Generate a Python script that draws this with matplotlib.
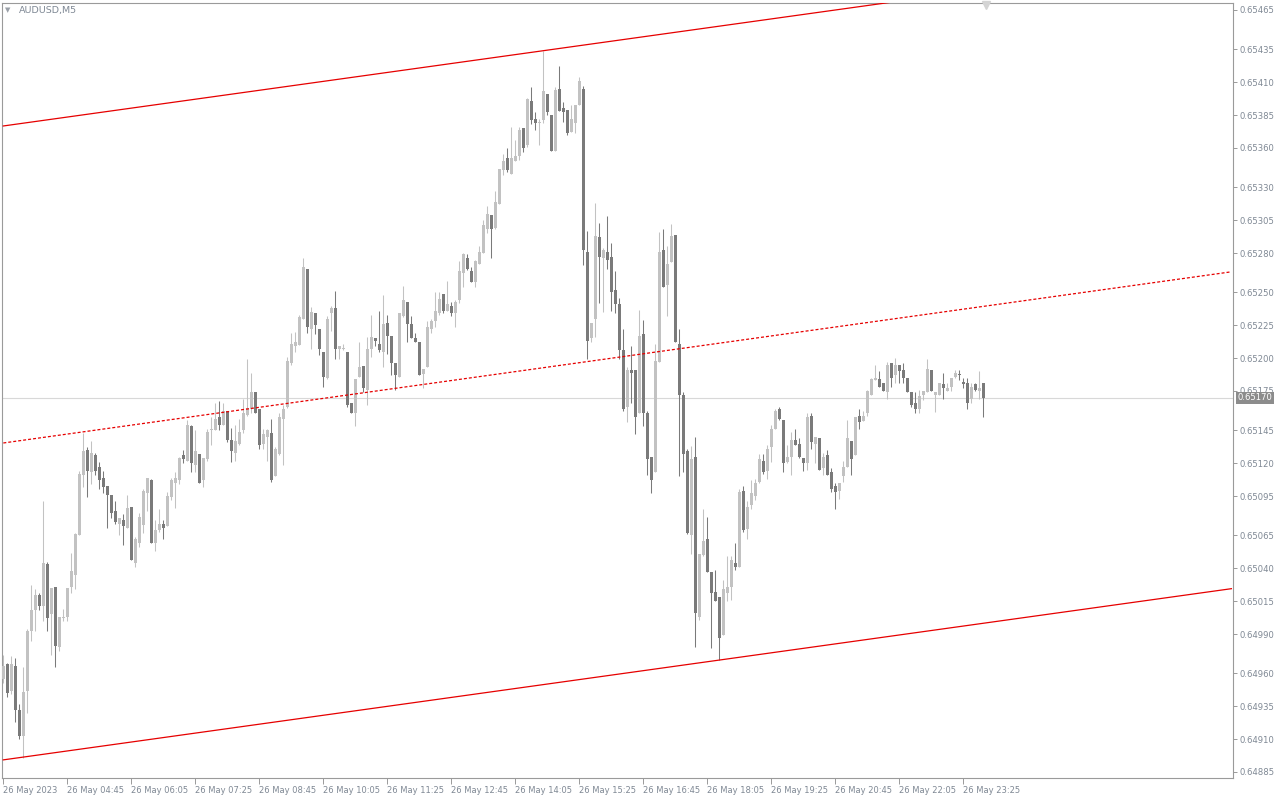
import numpy as np
import matplotlib
matplotlib.use("Agg")
import matplotlib.pyplot as plt
from matplotlib.transforms import blended_transform_factory

# ---------------- data (prices in 1e-5 points) ----------------
opens = [64956,64967,64947,64966,64932,64912,64947,64992,65008,65020,65011,65043,65005,65026,64980,65002,65003,65026,65035,65065,
65111,65130,65113,65126,65117,65109,65103,65096,65084,65074,65077,65071,65087,65044,65059,65073,65097,65107,65059,65069,
65074,65072,65094,65105,65107,65126,65122,65148,65119,65127,65107,65123,65145,65145,65155,65149,65160,65138,65128,65135,
65145,65157,65161,65174,65161,65135,65140,65143,65110,65127,65154,65163,65196,65209,65210,65230,65268,65222,65234,65222,
65205,65185,65234,65238,65207,65207,65205,65166,65158,65186,65194,65176,65207,65215,65211,65205,65227,65217,65196,65186,
65232,65243,65226,65215,65212,65188,65193,65222,65228,65234,65249,65236,65240,65234,65244,65265,65276,65266,65258,65272,
65280,65298,65309,65299,65317,65343,65352,65340,65350,65354,65375,65362,65396,65382,65379,65381,65401,65385,65358,65405,
65390,65389,65372,65379,65393,65405,65281,65215,65230,65292,65276,65281,65277,65252,65241,65206,65163,65191,65191,65158,
65218,65158,65125,65113,65197,65282,65256,65273,65294,65211,65172,65129,65065,65125,65003,65050,65062,65037,65022,65018,
64989,65021,65026,65044,65041,65099,65070,65088,65095,65106,65122,65114,65132,65146,65161,65153,65121,65125,65138,65135,
65124,65120,65156,65135,65139,65116,65126,65113,65103,65099,65110,65117,65137,65126,65156,65152,65158,65172,65183,65184,
65181,65174,65196,65187,65195,65191,65185,65174,65166,65161,65172,65174,65191,65172,65172,65180,65175,65178,65186,65188,
65182,65181,65169,65180,65175,65181]
highs = [64974,64968,64973,64972,64937,64965,64994,65027,65024,65021,65091,65045,65025,65026,65003,65009,65025,65052,65067,65114,
65143,65132,65137,65128,65121,65114,65103,65096,65091,65078,65081,65096,65087,65064,65082,65100,65109,65108,65077,65085,
65077,65098,65109,65113,65125,65130,65153,65149,65145,65127,65124,65146,65155,65166,65167,65166,65160,65147,65149,65154,
65169,65199,65189,65174,65161,65146,65146,65154,65132,65158,65164,65201,65219,65220,65233,65276,65268,65239,65234,65222,
65205,65232,65240,65251,65209,65211,65205,65166,65184,65212,65194,65216,65233,65215,65236,65248,65233,65217,65196,65234,
65255,65243,65232,65219,65212,65192,65228,65230,65250,65250,65249,65259,65243,65244,65274,65280,65279,65269,65275,65285,
65305,65316,65309,65327,65344,65355,65360,65376,65366,65376,65375,65398,65406,65387,65382,65434,65401,65385,65406,65422,
65395,65389,65393,65393,65414,65407,65297,65227,65318,65303,65284,65308,65288,65266,65246,65222,65193,65209,65191,65237,
65229,65160,65125,65211,65296,65298,65285,65302,65294,65222,65174,65131,65133,65140,65051,65085,65079,65037,65039,65018,
65031,65049,65049,65059,65100,65103,65091,65107,65108,65127,65127,65134,65149,65161,65163,65153,65134,65144,65146,65139,
65124,65158,65158,65140,65139,65128,65130,65116,65105,65105,65122,65153,65137,65155,65161,65160,65176,65185,65195,65190,
65181,65197,65196,65200,65195,65196,65185,65174,65174,65176,65175,65199,65191,65174,65181,65189,65181,65185,65191,65191,
65185,65185,65181,65181,65190,65181]
lows = [64953,64942,64944,64923,64910,64896,64930,64985,64992,65008,65000,64992,64974,64965,64977,65000,65000,65021,65024,65065,
65102,65094,65104,65111,65100,65097,65071,65078,65074,65065,65058,65071,65046,65041,65056,65067,65084,65059,65053,65068,
65062,65072,65092,65086,65104,65120,65122,65113,65113,65105,65102,65122,65134,65145,65145,65149,65136,65121,65122,65134,
65143,65156,65158,65158,65131,65131,65122,65106,65110,65126,65119,65162,65195,65205,65210,65230,65219,65207,65218,65202,
65178,65184,65221,65199,65199,65206,65163,65158,65148,65186,65174,65164,65201,65209,65205,65193,65203,65187,65176,65186,
65231,65212,65215,65212,65187,65177,65193,65219,65224,65233,65234,65236,65232,65224,65242,65254,65267,65258,65254,65272,
65280,65295,65276,65298,65317,65339,65342,65340,65350,65351,65357,65361,65378,65374,65362,65379,65385,65358,65358,65388,
65380,65370,65372,65371,65393,65271,65199,65212,65216,65242,65235,65268,65236,65234,65199,65160,65151,65166,65142,65158,
65148,65111,65097,65113,65197,65254,65232,65273,65212,65110,65113,65066,65051,64980,65001,65049,65037,64979,65015,64970,
64989,65015,65016,65039,65041,65068,65062,65085,65092,65105,65112,65108,65121,65146,65153,65113,65120,65111,65134,65124,
65114,65115,65131,65120,65115,65111,65111,65098,65085,65093,65106,65117,65111,65126,65146,65152,65156,65172,65183,65178,
65175,65169,65178,65181,65181,65181,65174,65163,65158,65158,65168,65174,65175,65159,65172,65169,65175,65175,65185,65183,
65177,65161,65166,65175,65169,65155]
closes = [64966,64945,64967,64932,64912,64946,64992,65008,65020,65011,65044,65002,65025,64981,65003,65003,65025,65038,65066,65112,
65129,65114,65128,65114,65107,65102,65096,65082,65075,65078,65072,65086,65046,65062,65079,65099,65109,65059,65069,65074,
65071,65095,65107,65109,65124,65123,65149,65120,65129,65105,65124,65144,65146,65154,65149,65160,65138,65129,65137,65144,
65158,65162,65174,65158,65134,65142,65145,65107,65131,65155,65161,65198,65211,65212,65231,65269,65224,65235,65225,65207,
65186,65230,65238,65207,65209,65208,65164,65158,65184,65193,65177,65207,65216,65213,65206,65226,65217,65196,65187,65234,
65244,65226,65215,65212,65187,65192,65224,65228,65236,65245,65236,65241,65234,65243,65266,65279,65268,65258,65274,65281,
65301,65310,65298,65319,65344,65350,65343,65352,65354,65374,65360,65397,65381,65379,65380,65403,65387,65358,65404,65388,
65387,65371,65382,65393,65411,65282,65213,65227,65293,65277,65282,65275,65250,65241,65206,65161,65191,65189,65155,65217,
65158,65123,65107,65198,65281,65254,65272,65293,65212,65172,65127,65067,65123,65006,65051,65061,65037,65021,65015,64987,
65024,65026,65046,65041,65098,65069,65087,65097,65105,65123,65113,65131,65146,65160,65154,65120,65125,65138,65134,65125,
65120,65155,65136,65140,65115,65125,65111,65100,65098,65105,65117,65139,65123,65155,65151,65156,65175,65184,65185,65178,
65175,65195,65185,65195,65190,65185,65174,65164,65161,65171,65175,65192,65175,65174,65181,65177,65177,65185,65189,65187,
65180,65166,65178,65176,65177,65170]

time_labels = ["26 May 2023", "26 May 04:45", "26 May 06:05", "26 May 07:25", "26 May 08:45",
               "26 May 10:05", "26 May 11:25", "26 May 12:45", "26 May 14:05", "26 May 15:25",
               "26 May 16:45", "26 May 18:05", "26 May 19:25", "26 May 20:45", "26 May 22:05",
               "26 May 23:25"]
price_ticks = [0.65465, 0.65435, 0.65410, 0.65385, 0.65360, 0.65330, 0.65305, 0.65280, 0.65250,
               0.65225, 0.65200, 0.65175, 0.65145, 0.65120, 0.65095, 0.65065, 0.65040, 0.65015,
               0.64990, 0.64960, 0.64935, 0.64910, 0.64885]
current_price = 0.65170

# channel (bar index -> price)
channel_x = [0, 307]
channel_upper = [0.653767, 0.655070]
channel_mid = [0.651354, 0.652657]
channel_lower = [0.648942, 0.650245]

# ---------------- drawing ----------------
O = np.array(opens) / 1e5
H = np.array(highs) / 1e5
L = np.array(lows) / 1e5
C = np.array(closes) / 1e5
idx = np.arange(len(O))

LIGHT = "#c2c2c2"
DARK = "#7a7a7a"
TXT = "#7f8894"
GRID = "#9a9a9a"

plt.rcParams['font.family'] = ['DejaVu Sans']
fig = plt.figure(figsize=(12.8, 8), dpi=100)
fig.patch.set_facecolor("white")
ax = fig.add_axes([2/1280, 22/800, 1231/1280, 775/800])
ax.set_facecolor("white")

colors = np.where(C >= O, LIGHT, DARK)
ax.axhline(current_price, color="#d8d8d8", lw=0.8, zorder=1)
ax.vlines(idx, L, H, colors=colors, linewidth=0.75, zorder=2)
body_h = np.maximum(np.abs(C - O), 0.0000075)
ax.bar(idx, body_h, bottom=np.minimum(O, C), width=0.75, color=colors,
       linewidth=0, zorder=3)

red = "#e60000"
ax.plot(channel_x, channel_upper, color=red, lw=0.9, zorder=4)
ax.plot(channel_x, channel_lower, color=red, lw=0.9, zorder=4)
ax.plot(channel_x, channel_mid, color=red, lw=0.9, zorder=4, linestyle=(0, (2.4, 1.6)))

ax.set_xlim(-0.33, 307.4)
ax.set_ylim(0.648804, 0.654703)

# y axis on right
ax.yaxis.tick_right()
ax.set_yticks(price_ticks)
ax.set_yticklabels([f"{p:.5f}" for p in price_ticks])
ax.tick_params(axis="y", direction="out", length=3, width=0.7, color=GRID,
               labelcolor=TXT, labelsize=6.1, pad=2)

# x axis
ax.set_xticks(np.arange(0, 16 * len(time_labels), 16))
ax.set_xticklabels(time_labels)
for t in ax.get_xticklabels():
    t.set_horizontalalignment("left")
ax.tick_params(axis="x", direction="out", length=4, width=0.7, color=GRID,
               labelcolor=TXT, labelsize=6.0, pad=1.5)

for s in ax.spines.values():
    s.set_color(GRID)
    s.set_linewidth(0.8)

# current price label
ax.annotate(f"{current_price:.5f}", xy=(1, current_price), xycoords=("axes fraction", "data"),
            xytext=(3.0, 0), textcoords="offset points", va="center", ha="left",
            color="white", fontsize=6.1,
            bbox=dict(boxstyle="square,pad=0.18", fc="#8c8c8c", ec="none"),
            annotation_clip=False, zorder=10)

# symbol label
fig.text(19/1280, 1 - 10/800, "AUDUSD,M5", va="center", ha="left", fontsize=6.8, color=TXT)
fig.text(8/1280, 1 - 10/800, "\u25BC", va="center", ha="center", fontsize=5, color="#9aa0a8")

# chart shift marker
tr = blended_transform_factory(ax.transData, ax.transAxes)
ax.plot([len(O) - 0.3], [0.997], marker="v", color="#d4d4d4", markersize=6,
        transform=tr, clip_on=False, zorder=5, linestyle="none")

fig.savefig("out.png", dpi=100, facecolor="white")
